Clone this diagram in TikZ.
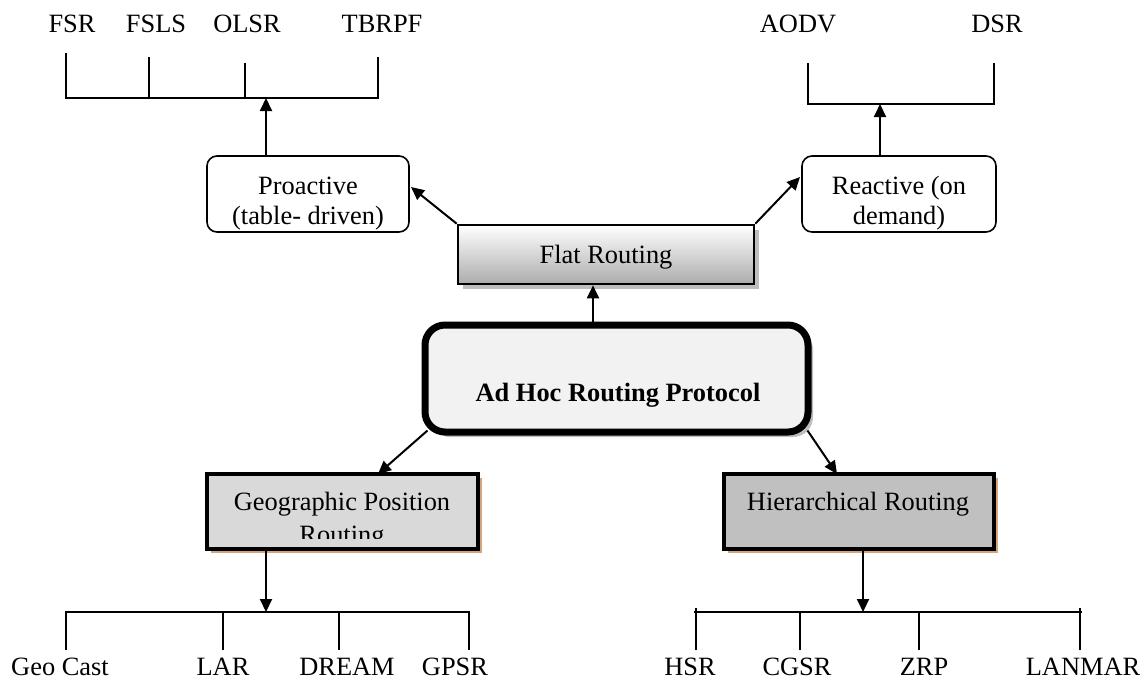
\documentclass[tikz,border=0pt]{standalone}
\usepackage{fontspec}
\setmainfont{Liberation Serif}
\usetikzlibrary{arrows.meta,calc,shadows}
\definecolor{adfill}{RGB}{242,242,242}
\definecolor{geofill}{RGB}{217,217,217}
\definecolor{hierfill}{RGB}{192,192,192}
\definecolor{tan}{RGB}{212,165,125}
\definecolor{shgray}{RGB}{190,190,190}
\begin{document}
\begin{tikzpicture}[x=1pt,y=-1pt,
  lbl/.style={font=\fontsize{26.4}{30}\selectfont, inner sep=0pt, anchor=base},
  tree/.style={line width=2pt},
  arr/.style={line width=2pt, -{Triangle[length=13pt,width=12pt]}},
  softbox/.style={draw, line width=1.6pt, rounded corners=10pt, fill=white},
  flatbox/.style={draw, line width=2.6pt, top color=white, bottom color=gray!65,
     drop shadow={shadow xshift=5pt, shadow yshift=-5pt, fill=shgray, opacity=1}},
  adbox/.style={draw, line width=7pt, rounded corners=20pt, fill=adfill,
     drop shadow={shadow xshift=5pt, shadow yshift=-5pt, fill=shgray, opacity=1}},
  catbox/.style={draw, line width=3.5pt,
     drop shadow={shadow xshift=4pt, shadow yshift=-4pt, fill=tan, opacity=1}}
]
\useasboundingbox (0,0) rectangle (1147,680);

% ---- top-left tree
\node[lbl] (fsr) at (72,32) {FSR};
\node[lbl] (fsls) at (156,32) {FSLS};
\node[lbl] (olsr) at (247,32) {OLSR};
\node[lbl] (tbrpf) at (382,32) {TBRPF};
\coordinate (fsrT) at (66,53);   \coordinate (fsrB) at (66,98);
\coordinate (fslsT) at (149,57); \coordinate (fslsB) at (149,98);
\coordinate (olsrT) at (245,63); \coordinate (olsrB) at (245,98);
\coordinate (tbrT) at (378,57);  \coordinate (tbrB) at (378,98);
\draw[tree] (fsrT) -- (fsrB) -- (tbrB) -- (tbrT);
\draw[tree] (fslsT) -- (fslsB);
\draw[tree] (olsrT) -- (olsrB);
\coordinate (proTip) at (266,98);

% ---- top-right tree
\node[lbl] (aodv) at (798,32) {AODV};
\node[lbl] (dsr) at (997,32) {DSR};
\coordinate (aodvT) at (808,63); \coordinate (aodvB) at (808,104);
\coordinate (dsrT) at (994,63);  \coordinate (dsrB) at (994,104);
\draw[tree] (aodvT) -- (aodvB) -- (dsrB) -- (dsrT);
\coordinate (reaTip) at (880,104);

% ---- proactive / reactive
\node[softbox, minimum width=202pt, minimum height=76pt] (pro) at (308,194) {};
\node[lbl] (prot1) at (308,194) {Proactive};
\node[lbl] (prot2) at (308,224) {(table- driven)};
\node[softbox, minimum width=194pt, minimum height=76pt] (rea) at (899,194) {};
\node[lbl] (reat1) at (899,194) {Reactive (on};
\node[lbl] (reat2) at (899,224) {demand)};
\draw[arr] (pro.north -| proTip) -- (proTip);
\draw[arr] (rea.north -| reaTip) -- (reaTip);

% ---- flat routing
\node[flatbox, minimum width=296pt, minimum height=59pt] (flat) at (606,254.5) {};
\node[lbl] (flatt) at (606,263) {Flat Routing};
\coordinate (proIn) at (411,187);
\coordinate (reaIn) at (800,177);
\draw[arr] (flat.north west) -- (proIn);
\draw[arr] (flat.north east) -- (reaIn);

% ---- ad hoc
\node[adbox, minimum width=383pt, minimum height=107pt] (adhoc) at (616.5,378.5) {};
\node[lbl, font=\fontsize{26.4}{30}\selectfont\bfseries] (adt) at (618,401) {Ad Hoc Routing Protocol};
\coordinate (flatArr) at (593,300);
\draw[arr] (adhoc.north -| flatArr) -- (flat.south -| flatArr);

% ---- geographic / hierarchical
\node[catbox, fill=geofill, minimum width=271pt, minimum height=75pt] (geo) at (342.5,511.5) {};
\begin{scope}
  \clip (210,476) rectangle (476,538);
  \node[lbl] (geot1) at (342,510) {Geographic Position};
  \node[lbl] (geot2) at (342,543) {Routing};
\end{scope}
\node[catbox, fill=hierfill, minimum width=270pt, minimum height=75pt] (hier) at (859,511.5) {};
\node[lbl] (hiert) at (858,510) {Hierarchical Routing};
\coordinate (geoIn) at (378,474);
\coordinate (hierIn) at (837,474);
\draw[arr] ($(adhoc.south west)+(6,-5)$) -- (geoIn);
\draw[arr] ($(adhoc.south east)+(-4,-5)$) -- (hierIn);

% ---- bottom-left tree
\coordinate (gcT) at (66,612);   \coordinate (gcB) at (66,650);
\coordinate (larT) at (223,612); \coordinate (larB) at (223,650);
\coordinate (drT) at (339,612);  \coordinate (drB) at (339,650);
\coordinate (gpT) at (469,612);  \coordinate (gpB) at (469,650);
\draw[tree] (gcB) -- (gcT) -- (gpT) -- (gpB);
\draw[tree] (larT) -- (larB);
\draw[tree] (drT) -- (drB);
\coordinate (geoTip) at (266,612);
\draw[arr] (geo.south -| geoTip) -- (geoTip);
\node[lbl] (geocast) at (60,675) {Geo Cast};
\node[lbl] (lar) at (223,675) {LAR};
\node[lbl] (dream) at (347,675) {DREAM};
\node[lbl] (gpsr) at (455,675) {GPSR};

% ---- bottom-right tree
\coordinate (hsrT) at (696,612);  \coordinate (hsrB) at (696,650);
\coordinate (cgT) at (800,612);   \coordinate (cgB) at (800,650);
\coordinate (zrT) at (919,612);   \coordinate (zrB) at (919,650);
\coordinate (lanT) at (1080,612); \coordinate (lanB) at (1080,650);
\coordinate (barL) at (694,612);  \coordinate (barR) at (1082,612);
\draw[tree] (barL) -- (barR);
\draw[tree] ($(hsrT)+(0,-4)$) -- (hsrB);
\draw[tree] ($(lanT)+(0,-4)$) -- (lanB);
\draw[tree] (cgT) -- (cgB);
\draw[tree] (zrT) -- (zrB);
\coordinate (hierTip) at (863,612);
\draw[arr] (hier.south -| hierTip) -- (hierTip);
\node[lbl] (hsr) at (690,675) {HSR};
\node[lbl] (cgsr) at (797,675) {CGSR};
\node[lbl] (zrp) at (924,675) {ZRP};
\node[lbl] (lanmar) at (1083,675) {LANMAR};
\end{tikzpicture}
\end{document}
